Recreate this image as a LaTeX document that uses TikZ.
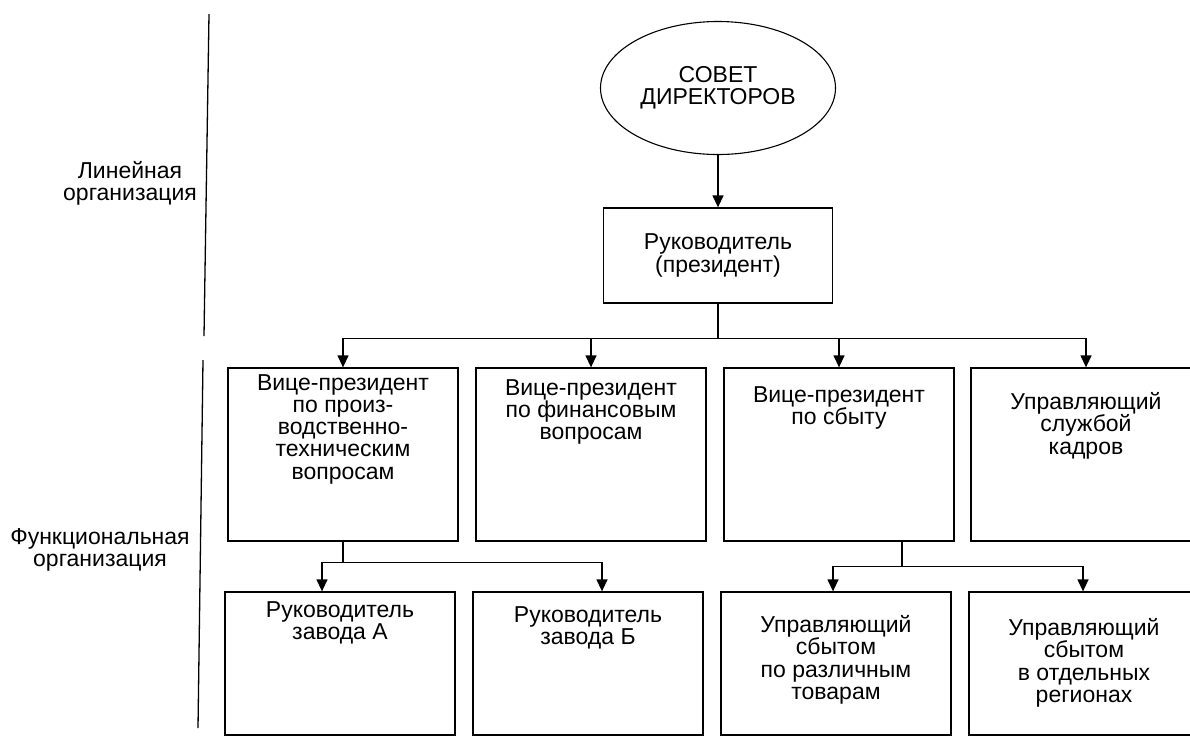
\documentclass[tikz,border=0pt]{standalone}
\usepackage{fontspec}
\setmainfont{Liberation Sans}
\usetikzlibrary{arrows.meta}
\usetikzlibrary{shapes.geometric}
\usetikzlibrary{positioning}

\begin{document}
\begin{tikzpicture}[x=1pt, y=1pt,
        unit/.style={draw, line width=1.3pt, minimum width=230pt, inner sep=0pt},
        caption/.style={align=center, inner sep=0pt, font=\fontsize{23}{22.2}\selectfont},
        wire/.style={line width=1.3pt},
        link/.style={wire, -{Triangle[width=11pt, length=12pt]}}]
        \useasboundingbox (0, 0) rectangle (1190, -740);
        \clip (0, 0) rectangle (1190, -740);
        \draw[wire] (209, -14) to (204, -336);
        \draw[wire] (203, -360) to (198, -728);
        \node[caption] (linorg) at (130, -183) {Линейная\\организация};
        \node[caption] (funorg) at (100, -550) {Функциональная\\организация};
        \node[caption, draw, line width=1.1pt, ellipse, minimum width=235pt, minimum height=133pt] (board) at (718, -88) {СОВЕТ\\ДИРЕКТОРОВ};
        \node[unit, caption, draw, minimum width=229pt, minimum height=95pt] (pres) at (718, -255.5) {Руководитель\\(президент)};
        \node[unit, minimum height=173pt] (vp1) at (343, -454.5) {};
        \node[unit, minimum height=173pt] (vp2) at (591, -454.5) {};
        \node[unit, minimum height=173pt] (vp3) at (839, -454.5) {};
        \node[unit, minimum height=173pt] (hr) at (1086, -454.5) {};
        \node[caption, below=7pt of vp1.north] (vp1t) {Вице-президент\\по произ-\\водственно-\\техническим\\вопросам};
        \node[caption, below=12pt of vp2.north] (vp2t) {Вице-президент\\по финансовым\\вопросам};
        \node[caption, below=19pt of vp3.north] (vp3t) {Вице-президент\\по сбыту};
        \node[caption, below=25pt of hr.north] (hrt) {Управляющий\\службой\\кадров};
        \node[unit, minimum height=143pt] (plta) at (340, -663.5) {};
        \node[unit, minimum height=143pt] (pltb) at (588, -663.5) {};
        \node[unit, minimum height=143pt] (salg) at (836, -663.5) {};
        \node[unit, minimum height=143pt] (salr) at (1084, -663.5) {};
        \node[caption, below=10pt of plta.north] (pltat) {Руководитель\\завода А};
        \node[caption, below=15pt of pltb.north] (pltbt) {Руководитель\\завода Б};
        \node[caption, below=24pt of salg.north] (salgt) {Управляющий\\сбытом\\по различным\\товарам};
        \node[caption, below=27pt of salr.north] (salrt) {Управляющий\\сбытом\\в отдельных\\регионах};
        \draw[link] (board) -- (pres);
        \coordinate (bus1) at ([yshift=-35pt]pres.south);
        \draw[wire] (pres.south) -- (bus1);
        \foreach \n in {vp1, vp2, vp3, hr}
            \draw[link] (bus1) -| (\n.north);
        \coordinate (bus2) at ([yshift=-21pt]vp1.south);
        \draw[wire] (vp1.south) -- (bus2);
        \draw[link] (bus2) -| ([xshift=-18pt]plta.north);
        \draw[link] (bus2) -| ([xshift=14pt]pltb.north);
        \coordinate (bus3) at ([xshift=63pt, yshift=-25pt]vp3.south);
        \draw[wire] ([xshift=63pt]vp3.south) -- (bus3);
        \draw[link] (bus3) -| ([xshift=-3pt]salg.north);
        \draw[link] (bus3) -| ([xshift=-1pt]salr.north);
    \end{tikzpicture}
\end{document}
